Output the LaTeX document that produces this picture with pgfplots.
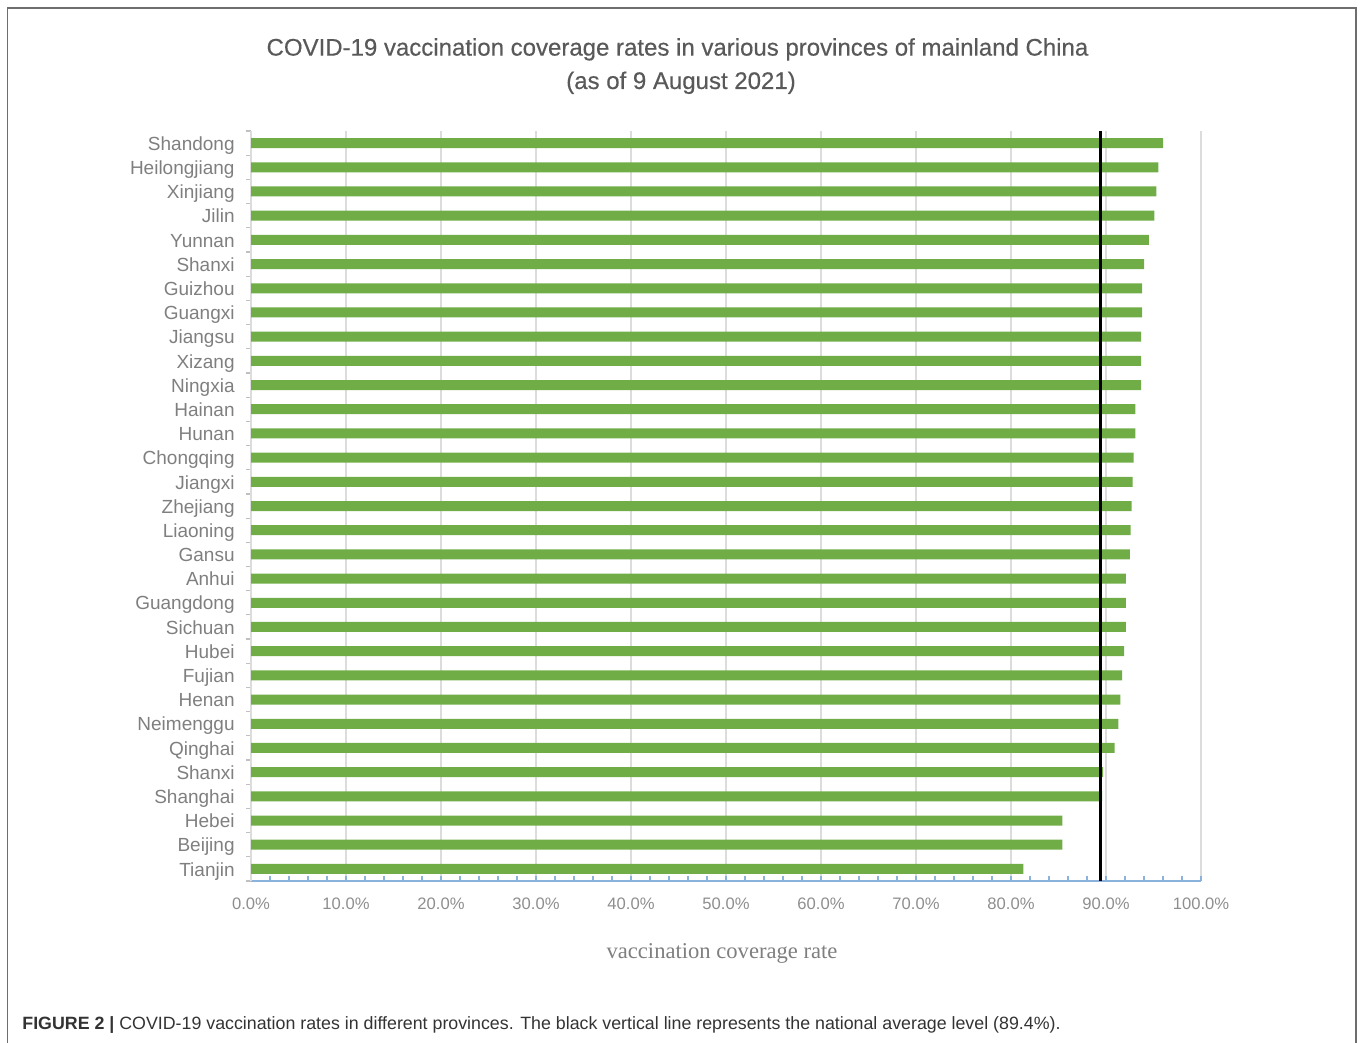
\documentclass[border=0pt]{standalone}
\usepackage{fontspec}
\setmainfont{Liberation Sans}
\newfontfamily\seriffont{Liberation Serif}
\newfontfamily\titlefont{Liberation Sans}[FakeBold=0.4]
\usepackage{pgfplots}
\usepackage{pgfplotstable}
\pgfplotsset{compat=1.18}
\definecolor{bargreen}{HTML}{70AD47}
\definecolor{gridgray}{HTML}{DCDCDC}
\definecolor{axisblue}{HTML}{8AB2DC}
\definecolor{labelgray}{HTML}{7F7F7F}
\definecolor{ticklabelgray}{HTML}{8E8E8E}
\definecolor{titlegray}{HTML}{595959}
\definecolor{framegray}{HTML}{6E6E6E}

\pgfplotstableread{
idx value
0 96.0
1 95.5
2 95.3
3 95.1
4 94.5
5 94.0
6 93.8
7 93.8
8 93.7
9 93.7
10 93.7
11 93.1
12 93.1
13 92.9
14 92.8
15 92.7
16 92.6
17 92.5
18 92.1
19 92.1
20 92.1
21 91.9
22 91.7
23 91.5
24 91.3
25 90.9
26 89.7
27 89.6
28 85.4
29 85.4
30 81.3
}\ratetable

\begin{document}
\begin{tikzpicture}
\path[use as bounding box] (0,0) rectangle (680pt,-521.5pt);
\draw[framegray, line width=0.8pt] (3.8pt,-521.5pt) -- (3.8pt,-4.1pt) -- (678pt,-4.1pt) -- (678pt,-521.5pt);

\node[anchor=base, font=\titlefont\fontsize{12}{14}\selectfont, text=titlegray] at (338.75pt,-27.8pt)
  {COVID-19 vaccination coverage rates in various provinces of mainland China};
\node[anchor=base, font=\titlefont\fontsize{12}{14}\selectfont, text=titlegray] at (340.5pt,-44.5pt)
  {(as of 9 August 2021)};

\begin{axis}[
  at={(125.5pt,-440.5pt)}, anchor=south west,
  scale only axis, width=475pt, height=375pt,
  xbar, bar width=5pt,
  xmin=0, xmax=100, ymin=-0.5, ymax=30.5,
  y dir=reverse,
  axis x line*=bottom, axis y line*=left,
  x axis line style={-, draw=axisblue, line width=0.8pt},
  y axis line style={-, draw=gridgray, line width=0.6pt},
  tick align=inside,
  xtick={0,10,...,100},
  xticklabels={0.0\%,10.0\%,20.0\%,30.0\%,40.0\%,50.0\%,60.0\%,70.0\%,80.0\%,90.0\%,100.0\%},
  minor x tick num=4,
  major tick length=2.6pt, minor tick length=2.6pt,
  major x tick style={draw=axisblue, line width=0.7pt},
  minor x tick style={draw=axisblue, line width=0.7pt},
  ytick={0,...,30},
  yticklabels={Shandong,Heilongjiang,Xinjiang,Jilin,Yunnan,Shanxi,Guizhou,Guangxi,Jiangsu,Xizang,Ningxia,Hainan,Hunan,Chongqing,Jiangxi,Zhejiang,Liaoning,Gansu,Anhui,Guangdong,Sichuan,Hubei,Fujian,Henan,Neimenggu,Qinghai,Shanxi,Shanghai,Hebei,Beijing,Tianjin},
  minor ytick={-0.5,0.5,...,30.5},
  major y tick style={draw=none},
  minor y tick style={draw=gridgray!70!gray, line width=0.6pt, xshift=-2.6pt},
  xmajorgrids=true,
  major grid style={draw=gridgray, line width=0.6pt},
  xticklabel style={font=\fontsize{8.3}{10}\selectfont, text=ticklabelgray, anchor=center, yshift=-11.5pt},
  yticklabel style={font=\fontsize{9.5}{11}\selectfont, text=labelgray, anchor=base east, inner sep=0pt, xshift=-8pt, yshift=-3.6pt},
  clip=false,
]
\addplot[fill=bargreen, draw=none] table[x=value, y=idx] {\ratetable};
\addplot[black, line width=1.4pt, xbar=0pt, forget plot, sharp plot] coordinates {(89.4,-0.5) (89.4,30.5)};
\end{axis}

\node[anchor=base, font=\seriffont\fontsize{11.3}{13}\selectfont, text=labelgray] at (361pt,-479pt)
  {vaccination coverage rate};
\node[anchor=base west, font=\fontsize{8.9}{11}\selectfont, text=black!80, inner sep=0pt] at (11pt,-514.5pt)
  {\textbf{FIGURE 2 |} COVID-19 vaccination rates in different provinces. The black vertical line represents the national average level (89.4\%).};
\end{tikzpicture}
\end{document}
